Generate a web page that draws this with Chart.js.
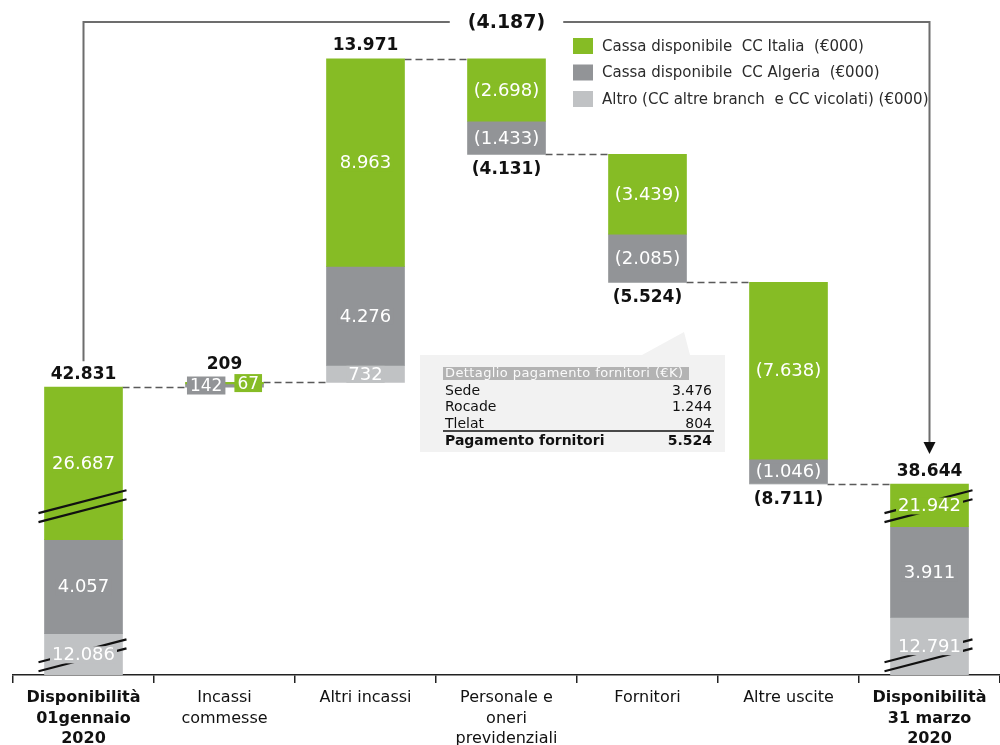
<!DOCTYPE html>
<html>
<head>
<meta charset="utf-8">
<script src="https://cdn.jsdelivr.net/npm/chart.js@4.4.1/dist/chart.umd.min.js"></script>
<style>
  html, body { margin: 0; padding: 0; background: #fff; }
</style>
</head>
<body>
<canvas id="chart" width="1000" height="745"></canvas>
<script>
// ---- data (€000)
const categories = [
  ['Disponibilità', '01gennaio', '2020'],
  ['Incassi', 'commesse'],
  ['Altri incassi'],
  ['Personale e', 'oneri', 'previdenziali'],
  ['Fornitori'],
  ['Altre uscite'],
  ['Disponibilità', '31 marzo', '2020']
];
const barKinds = ['total', 'step', 'step', 'step', 'step', 'step', 'total'];
const cassaItalia = [26687, 67, 8963, -2698, -3439, -7638, 21942];
const cassaAlgeria = [4057, 142, 4276, -1433, -2085, -1046, 3911];
const altro = [12086, 0, 732, 0, 0, -27, 12791];
const barTotals = [42831, 209, 13971, -4131, -5524, -8711, 38644];

const seriesLabels = [
  'Cassa disponibile  CC Italia  (€000)',
  'Cassa disponibile  CC Algeria  (€000)',
  'Altro (CC altre branch  e CC vicolati) (€000)'
];

const fornitoriRows = ['Sede', 'Rocade', 'Tlelat'];
const fornitoriValues = [3476, 1244, 804];

// value ranges cut out of the axis (drawn as // marks on the total bars)
const AXIS_GAPS = [[860, 11160], [17600, 37700]];
const Y_MAX = 28200;

const FONT = "'DejaVu Sans', Verdana, sans-serif";
const GREEN = '#86bc25';
const DARK_GREY = '#929497';
const LIGHT_GREY = '#c0c2c4';

function fmt(v) {
  const s = String(Math.abs(v)).replace(/\B(?=(\d{3})+(?!\d))/g, '.');
  return v < 0 ? '(' + s + ')' : s;
}

// real value -> axis value, removing the gaps
function toAxis(v) {
  let d = v;
  AXIS_GAPS.forEach(([a, b]) => {
    if (v >= b) d -= b - a;
    else if (v > a) d -= v - a;
  });
  return d;
}

// ---- waterfall segments
const stackUp = [altro, cassaAlgeria, cassaItalia];     // order going upwards
const ranges = new Map(stackUp.map(s => [s, []]));
const levels = [];
let level = 0;
categories.forEach((c, i) => {
  if (barKinds[i] === 'total') {
    let base = 0;
    stackUp.forEach(s => {
      ranges.get(s)[i] = s[i] ? [base, base + s[i]] : null;
      base += s[i];
    });
    level = barTotals[i];
  } else if (barTotals[i] > 0) {
    let base = level;
    stackUp.forEach(s => {
      ranges.get(s)[i] = s[i] ? [base, base + s[i]] : null;
      base += s[i];
    });
    level += barTotals[i];
  } else {
    let base = level;
    stackUp.slice().reverse().forEach(s => {
      ranges.get(s)[i] = s[i] ? [base + s[i], base] : null;
      base += s[i];
    });
    level += barTotals[i];
  }
  levels.push(level);
});

const toBars = s => ranges.get(s).map(r => r ? [toAxis(r[0]), toAxis(r[1])] : null);

const datasets = [
  { label: seriesLabels[0], values: cassaItalia, data: toBars(cassaItalia), backgroundColor: GREEN },
  { label: seriesLabels[1], values: cassaAlgeria, data: toBars(cassaAlgeria), backgroundColor: DARK_GREY },
  { label: seriesLabels[2], values: altro, data: toBars(altro), backgroundColor: LIGHT_GREY }
].map(d => Object.assign(d, { grouped: false, barThickness: 78, borderWidth: 0 }));

// ---- drawing helpers
function catBox(chart, i) {
  let box = null;
  chart.data.datasets.forEach((ds, d) => {
    if (!ds.data[i]) return;
    const el = chart.getDatasetMeta(d).data[i];
    const top = Math.min(el.y, el.base), bottom = Math.max(el.y, el.base);
    if (!box) box = { x: el.x, left: el.x - el.width / 2, right: el.x + el.width / 2, top, bottom };
    else { box.top = Math.min(box.top, top); box.bottom = Math.max(box.bottom, bottom); }
  });
  return box;
}

function textBox(ctx, text, x, y, bg, padX) {
  const w = ctx.measureText(text).width;
  ctx.fillStyle = bg;
  ctx.fillRect(x - w / 2 - padX, y - 8, w + padX * 2, 17);
  ctx.fillStyle = '#fff';
  ctx.fillText(text, x, y + 1);
}

const waterfallDecor = {
  id: 'waterfallDecor',
  beforeDatasetsDraw(chart) {
    const ctx = chart.ctx, y = chart.scales.y;
    ctx.save();
    ctx.strokeStyle = '#5a5a5a';
    ctx.lineWidth = 1.6;
    ctx.setLineDash([7, 4]);
    for (let i = 0; i < categories.length - 1; i++) {
      const a = catBox(chart, i), b = catBox(chart, i + 1);
      const py = Math.round(y.getPixelForValue(toAxis(levels[i]))) + 0.5;
      ctx.beginPath();
      ctx.moveTo(a.right, py);
      ctx.lineTo(b.left, py);
      ctx.stroke();
    }
    ctx.restore();
  },
  afterDatasetsDraw(chart) {
    const ctx = chart.ctx, y = chart.scales.y, area = chart.chartArea;
    const boxes = categories.map((c, i) => catBox(chart, i));
    ctx.save();

    // break marks on the total bars
    ctx.strokeStyle = '#111';
    ctx.lineWidth = 2.2;
    const slope = 0.26;
    boxes.forEach((b, i) => {
      if (barKinds[i] !== 'total') return;
      AXIS_GAPS.forEach(([a]) => {
        const yc = y.getPixelForValue(toAxis(a));
        if (yc < b.top || yc > b.bottom) return;
        const xl = b.left - 6, xr = b.right + 4;
        [-4.5, 4.5].forEach(off => {
          ctx.beginPath();
          ctx.moveTo(xl, yc + off + (b.x - xl) * slope);
          ctx.lineTo(xr, yc + off - (xr - b.x) * slope);
          ctx.stroke();
        });
      });
    });

    // segment labels
    ctx.textAlign = 'center';
    ctx.textBaseline = 'middle';
    const labelTops = [];
    boxes.forEach((b, i) => {
      const small = b.bottom - b.top < 12;
      if (small) {
        // tiny steps: side by side value badges
        ctx.font = '17px ' + FONT;
        const items = [];
        stackUp.forEach(s => {
          const d = chart.data.datasets.findIndex(ds => ds.values === s);
          if (!s[i]) return;
          const el = chart.getDatasetMeta(d).data[i];
          const text = fmt(s[i]);
          items.push({ text, w: ctx.measureText(text).width + 6, cy: (el.y + el.base) / 2, color: chart.data.datasets[d].backgroundColor });
        });
        const gap = 9;
        let x = b.x - (items.reduce((t, it) => t + it.w, 0) + gap * (items.length - 1)) / 2;
        let top = Infinity;
        items.forEach(it => {
          ctx.fillStyle = it.color;
          ctx.fillRect(x, it.cy - 9, it.w, 18);
          ctx.fillStyle = '#fff';
          ctx.fillText(it.text, x + it.w / 2, it.cy + 1);
          top = Math.min(top, it.cy - 9);
          x += it.w + gap;
        });
        labelTops[i] = top;
        return;
      }
      labelTops[i] = b.top;
      ctx.font = '18px ' + FONT;
      chart.data.datasets.forEach((ds, d) => {
        if (!ds.data[i]) return;
        const el = chart.getDatasetMeta(d).data[i];
        if (Math.abs(el.base - el.y) < 12) return;
        textBox(ctx, fmt(ds.values[i]), el.x, (el.y + el.base) / 2, ds.backgroundColor, 2);
      });
    });

    // step / total values
    ctx.font = 'bold 17px ' + FONT;
    ctx.fillStyle = '#111';
    const labelY = [];
    boxes.forEach((b, i) => {
      const below = barKinds[i] !== 'total' && barTotals[i] < 0;
      labelY[i] = below ? b.bottom + 15 : labelTops[i] - (labelTops[i] < b.top ? 10 : 13);
      ctx.fillText(fmt(barTotals[i]), b.x, labelY[i]);
    });

    // net change arrow between the two totals
    const first = 0, last = categories.length - 1;
    const x0 = boxes[first].x, x1 = boxes[last].x;
    const top = area.top;
    const tipY = labelY[last] - 17;
    ctx.strokeStyle = '#6d6d6d';
    ctx.lineWidth = 2;
    ctx.beginPath();
    ctx.moveTo(x0, labelY[first] - 13);
    ctx.lineTo(x0, top);
    ctx.lineTo(x1, top);
    ctx.lineTo(x1, tipY - 10);
    ctx.stroke();
    ctx.fillStyle = '#111';
    ctx.beginPath();
    ctx.moveTo(x1 - 6, tipY - 12);
    ctx.lineTo(x1 + 6, tipY - 12);
    ctx.lineTo(x1, tipY);
    ctx.closePath();
    ctx.fill();

    const net = barTotals[last] - barTotals[first];
    ctx.font = 'bold 19px ' + FONT;
    const mid = (x0 + x1) / 2;
    const nw = ctx.measureText(fmt(net)).width;
    ctx.fillStyle = '#fff';
    ctx.fillRect(mid - nw / 2 - 18, top - 11, nw + 36, 24);
    ctx.fillStyle = '#111';
    ctx.fillText(fmt(net), mid, top + 1);

    // legend
    ctx.textAlign = 'left';
    ctx.font = '15px ' + FONT;
    chart.data.datasets.forEach((ds, k) => {
      const ly = 46 + k * 26.5;
      ctx.fillStyle = ds.backgroundColor;
      ctx.fillRect(573, ly - 8, 20, 16);
      ctx.fillStyle = '#2b2b2b';
      ctx.fillText(ds.label, 602, ly + 1);
    });

    // detail box for the Fornitori step
    ctx.fillStyle = '#f2f2f2';
    ctx.beginPath();
    ctx.moveTo(420, 355);
    ctx.lineTo(642, 355);
    ctx.lineTo(684, 332);
    ctx.lineTo(690, 355);
    ctx.lineTo(725, 355);
    ctx.lineTo(725, 452);
    ctx.lineTo(420, 452);
    ctx.closePath();
    ctx.fill();

    ctx.fillStyle = '#b3b3b3';
    ctx.fillRect(443, 367, 246, 13);
    ctx.fillStyle = '#fafafa';
    ctx.font = '13px ' + FONT;
    ctx.letterSpacing = '0.4px';
    ctx.fillText('Dettaglio pagamento fornitori (€K)', 445, 374);
    ctx.letterSpacing = '0px';

    ctx.font = '14px ' + FONT;
    fornitoriRows.forEach((name, r) => {
      const ry = 391 + r * 16.5;
      ctx.fillStyle = '#111';
      ctx.textAlign = 'left';
      ctx.fillText(name, 445, ry);
      ctx.textAlign = 'right';
      ctx.fillText(fmt(fornitoriValues[r]), 712, ry);
    });
    ctx.strokeStyle = '#111';
    ctx.lineWidth = 1.5;
    ctx.beginPath();
    ctx.moveTo(443, 431);
    ctx.lineTo(714, 431);
    ctx.stroke();
    ctx.font = 'bold 14px ' + FONT;
    ctx.textAlign = 'left';
    ctx.fillText('Pagamento fornitori', 445, 441);
    ctx.textAlign = 'right';
    ctx.fillText(fmt(fornitoriValues.reduce((a, b) => a + b, 0)), 712, 441);

    ctx.restore();
  }
};

const config = {
  type: 'bar',
  data: { labels: categories, datasets: datasets },
  options: {
    responsive: false,
    animation: false,
    layout: { padding: { top: 22, left: 13, right: 0, bottom: 0 } },
    plugins: {
      legend: { display: false },
      tooltip: { enabled: false }
    },
    scales: {
      x: {
        offset: true,
        grid: { display: true, drawOnChartArea: false, drawTicks: true, tickLength: 8, offset: true, color: '#222', lineWidth: 1.5 },
        border: { display: true, color: '#222', width: 1.5 },
        ticks: {
          color: '#111',
          padding: 5,
          autoSkip: false,
          maxRotation: 0,
          font: c => ({
            family: FONT,
            size: 16,
            weight: barKinds[c.index] === 'total' ? 'bold' : 'normal',
            lineHeight: 1.28
          })
        },
        afterFit: axis => { axis.height = 70; }
      },
      y: { display: false, min: 0, max: Y_MAX }
    }
  },
  plugins: [waterfallDecor]
};

const main_chart = new Chart(document.getElementById('chart'), config);
</script>
</body>
</html>
